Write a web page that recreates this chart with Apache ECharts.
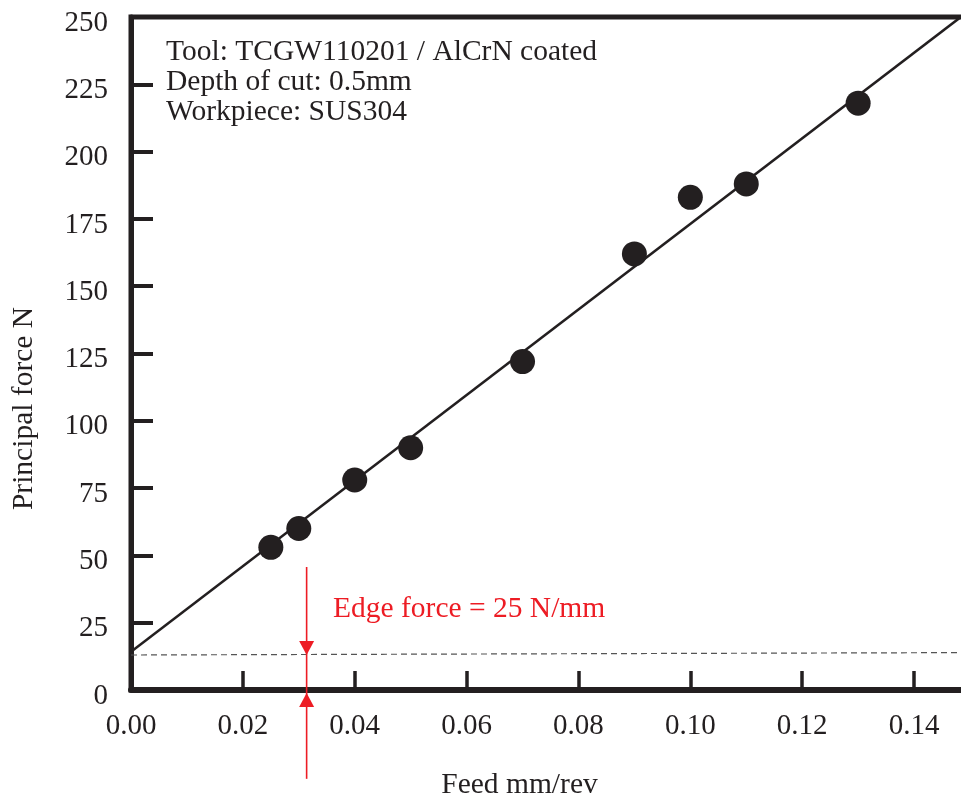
<!DOCTYPE html>
<html>
<head>
<meta charset="utf-8">
<script src="https://cdn.jsdelivr.net/npm/echarts@6/dist/echarts.min.js"></script>
<style>
  html, body { margin: 0; padding: 0; background: #fff; }
  #chart { width: 961px; height: 799px; }
</style>
</head>
<body>
<div id="chart"></div>
<script>
// Measured principal force against feed
const feed = [0.025, 0.03, 0.04, 0.05, 0.07, 0.09, 0.10, 0.11, 0.13];
const force = [53, 60, 78, 90, 122, 162, 183, 188, 218];

// Linear fit through the measurements (end points)
const fitFeed = [0, 0.15];
const fitForce = [14.2, 252.6];

// Edge force level (dashed)
const edgeFeed = [0, 0.15];
const edgeForce = [13, 13.9];

// Edge force marker: feed position, top of stem, arrow tip level, bottom of stem
const markerFeed = 0.0314;
const markerTop = 45.7;
const markerBottom = -33;

// Axis ranges and ticks
const xTicks = { min: 0, max: 0.15, step: 0.02 };
const yTicks = { min: 0, max: 250, step: 25 };

const noteLines = [
  'Tool: TCGW110201 / AlCrN coated',
  'Depth of cut: 0.5mm',
  'Workpiece: SUS304'
];
const edgeLabel = 'Edge force = 25 N/mm';

const INK = '#231f20';
const RED = '#ed1c24';
const FONT = '"Liberation Serif", "Times New Roman", serif';
const TEXT_SIZE = 29.5;
const TICK_SIZE = 29;

const chart = echarts.init(document.getElementById('chart'), null, { renderer: 'canvas' });

// Red double arrow marking the edge force intercept
function renderMarker(params, api) {
  const x = api.value(0);
  const top = api.coord([x, api.value(1)]);
  const tip = api.coord([x, api.value(2)]);
  const base = api.coord([x, 0]);
  const bottom = api.coord([x, api.value(3)]);
  const hw = 7.5, h = 14;
  return {
    type: 'group',
    children: [
      {
        type: 'line',
        shape: { x1: top[0], y1: top[1], x2: bottom[0], y2: bottom[1] },
        style: { stroke: RED, lineWidth: 1.6 }
      },
      {
        type: 'polygon',
        shape: { points: [[tip[0] - hw, tip[1] - h], [tip[0] + hw, tip[1] - h], [tip[0], tip[1]]] },
        style: { fill: RED }
      },
      {
        type: 'polygon',
        shape: { points: [[base[0] - hw, base[1] + 3 + h], [base[0] + hw, base[1] + 3 + h], [base[0], base[1] + 3]] },
        style: { fill: RED }
      }
    ]
  };
}

chart.setOption({
  backgroundColor: '#ffffff',
  animation: false,
  grid: {
    left: 131, right: -9, top: 17, bottom: 109,
    outerBoundsMode: 'none',
    show: true,
    borderColor: INK,
    borderWidth: 5,
    backgroundColor: 'transparent'
  },
  xAxis: {
    type: 'value',
    min: xTicks.min, max: xTicks.max, interval: xTicks.step,
    name: 'Feed mm/rev',
    nameLocation: 'middle',
    nameGap: 80,
    nameTextStyle: { fontFamily: FONT, fontSize: TEXT_SIZE, color: INK, padding: [0, 62, 0, 0] },
    axisLine: { show: true, onZero: false, lineStyle: { color: INK, width: 6 } },
    axisTick: { show: true, inside: true, length: 19, lineStyle: { color: INK, width: 3.5 } },
    axisLabel: {
      fontFamily: FONT, fontSize: TICK_SIZE, color: INK, margin: 22,
      showMaxLabel: false,
      formatter: v => v.toFixed(2)
    },
    splitLine: { show: false }
  },
  yAxis: {
    type: 'value',
    min: yTicks.min, max: yTicks.max, interval: yTicks.step,
    name: 'Principal force N',
    nameLocation: 'middle',
    nameGap: 92,
    nameTextStyle: { fontFamily: FONT, fontSize: TEXT_SIZE, color: INK, padding: [0, 110, 0, 0] },
    axisLine: { show: true, onZero: false, lineStyle: { color: INK, width: 5 } },
    axisTick: { show: true, inside: true, length: 22, lineStyle: { color: INK, width: 4 } },
    axisLabel: {
      fontFamily: FONT, fontSize: TICK_SIZE, color: INK, margin: 23,
      verticalAlign: 'top', lineHeight: 12
    },
    splitLine: { show: false }
  },
  series: [
    {
      name: 'fit',
      type: 'line',
      data: fitFeed.map((x, i) => [x, fitForce[i]]),
      symbol: 'none',
      clip: true,
      lineStyle: { color: INK, width: 2.5 },
      z: 3
    },
    {
      name: 'edge',
      type: 'line',
      data: edgeFeed.map((x, i) => [x, edgeForce[i]]),
      symbol: 'none',
      clip: false,
      lineStyle: { color: '#555555', width: 1.2, type: [6, 4] },
      z: 2
    },
    {
      name: 'edge marker',
      type: 'custom',
      clip: false,
      silent: true,
      renderItem: renderMarker,
      encode: { x: 0, y: 1 },
      data: [[markerFeed, markerTop, edgeForce[0], markerBottom]],
      z: 4
    },
    {
      name: 'measured',
      type: 'scatter',
      data: feed.map((x, i) => [x, force[i]]),
      symbol: 'circle',
      symbolSize: 25,
      itemStyle: { color: INK, opacity: 1 },
      z: 5
    }
  ],
  graphic: [
    {
      type: 'text',
      left: 166,
      top: 37,
      style: {
        text: noteLines.join('\n'),
        font: TEXT_SIZE + 'px ' + FONT,
        fill: INK,
        lineHeight: 30
      }
    },
    {
      type: 'text',
      left: 333,
      top: 594,
      style: {
        text: edgeLabel,
        font: TEXT_SIZE + 'px ' + FONT,
        fill: RED
      }
    }
  ]
});
</script>
</body>
</html>
